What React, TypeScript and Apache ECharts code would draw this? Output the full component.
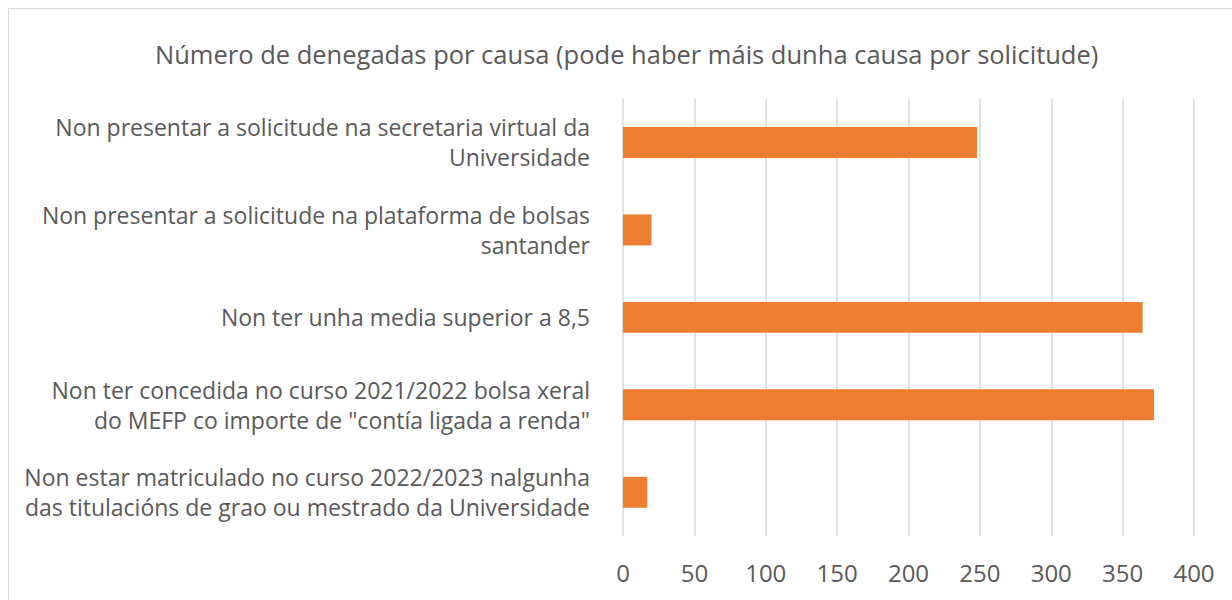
import React, { useEffect, useRef } from "react";
import * as echarts from "echarts";

const titleText = "Número de denegadas por causa (pode haber máis dunha causa por solicitude)";
const categories = [
  "Non presentar a solicitude na secretaria virtual da\nUniversidade",
  "Non presentar a solicitude na plataforma de bolsas\nsantander",
  "Non ter unha media superior a 8,5",
  "Non ter concedida no curso 2021/2022 bolsa xeral\ndo MEFP co importe de \"contía ligada a renda\"",
  "Non estar matriculado no curso 2022/2023 nalgunha\ndas titulacións de grao ou mestrado da Universidade",
];
const values = [248, 20, 364, 372, 17];
const axisMin = 0;
const axisMax = 400;
const axisInterval = 50;

const FONT = "'Open Sans', sans-serif";
const TEXT = "#595959";

export default function App() {
  const ref = useRef<HTMLDivElement>(null);
  useEffect(() => {
    if (!ref.current) return;
    const chart = echarts.init(ref.current, null, { renderer: "svg" });
    chart.setOption({
      animation: false,
      backgroundColor: "#ffffff",
      title: {
        text: titleText,
        left: 150,
        top: 36,
        textStyle: { color: TEXT, fontFamily: FONT, fontSize: 25.5, fontWeight: "normal" },
      },
      graphic: [
        {
          type: "rect",
          shape: { x: 8.5, y: 8.5, width: 1260, height: 640 },
          style: { fill: "none", stroke: "#d9d9d9", lineWidth: 1 },
          silent: true,
        },
      ],
      grid: { left: 623, right: 38, top: 98.75, bottom: 64, containLabel: false },
      xAxis: {
        type: "value",
        min: axisMin,
        max: axisMax,
        interval: axisInterval,
        axisLine: { show: false },
        axisTick: { show: false },
        splitLine: { show: true, lineStyle: { color: "#d9d9d9", width: 1.5 } },
        axisLabel: { color: TEXT, fontFamily: FONT, fontSize: 24, margin: 24.5 },
      },
      yAxis: {
        type: "category",
        inverse: true,
        data: categories,
        axisLine: { show: false },
        axisTick: { show: false },
        axisLabel: {
          color: TEXT,
          fontFamily: FONT,
          fontSize: 23,
          lineHeight: 30,
          align: "right",
          margin: 33,
        },
      },
      series: [
        {
          type: "bar",
          data: values,
          barCategoryGap: "64.6%",
          itemStyle: { color: "#ED7D31" },
        },
      ],
    });
    return () => chart.dispose();
  }, []);
  return (
    <div
      ref={ref}
      style={{ position: "absolute", left: 0, top: 0, width: 1232, height: 600 }}
    />
  );
}
